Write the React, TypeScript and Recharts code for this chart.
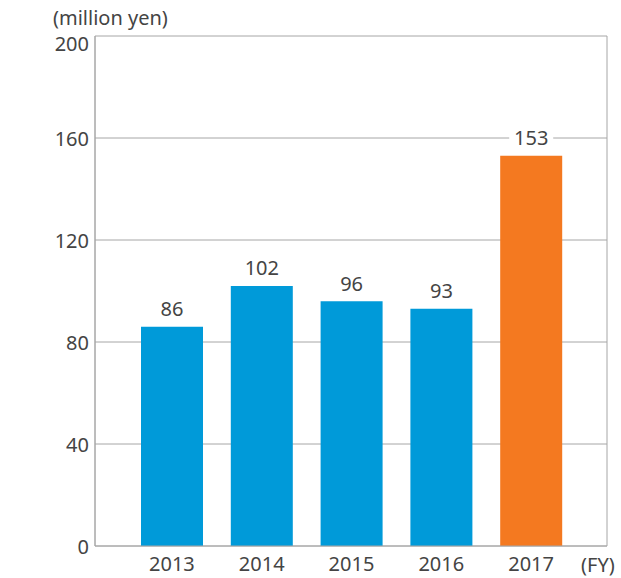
import { BarChart, Bar, XAxis, YAxis, CartesianGrid, LabelList, Cell } from 'recharts';

const years = ['2013', '2014', '2015', '2016', '2017'];
const amounts = [86, 102, 96, 93, 153];
const yTicks = [0, 40, 80, 120, 160, 200];

const data = years.map((year, i) => ({ year, amount: amounts[i] }));

const FONT = '"Noto Sans", sans-serif';
const TEXT = '#444';
const GRID = '#a6a6a6';

function ValueLabel(props: any) {
  const { x, y, width, value } = props;
  const cx = x + width / 2;
  const cy = y - 18;
  const w = String(value).length * 12 + 8;
  return (
    <g>
      <rect x={cx - w / 2} y={cy - 12} width={w} height={24} fill="#fff" />
      <text x={cx} y={cy} textAnchor="middle" dominantBaseline="central" fill={TEXT} fontSize={20} fontFamily={FONT}>
        {value}
      </text>
    </g>
  );
}

function YTick(props: any) {
  const { x, y, payload } = props;
  // top label sits a little below the frame line
  const shift = payload.value === 200 ? 7 : 0;
  return (
    <text x={x} y={y + shift} textAnchor="end" dominantBaseline="central" fill={TEXT} fontSize={20} fontFamily={FONT}>
      {payload.value}
    </text>
  );
}

export default function App() {
  return (
    <div style={{ position: 'absolute', left: 0, top: 0, width: 621, height: 578, background: '#fff', fontFamily: FONT }}>
      <BarChart width={621} height={578} data={data} margin={{ top: 36, right: 14, bottom: 0, left: 0 }}>
        <CartesianGrid
          stroke={GRID}
          verticalCoordinatesGenerator={({ offset }: any) => [offset.left, offset.left + offset.width]}
        />
        <XAxis
          dataKey="year"
          axisLine={{ stroke: GRID }}
          tickLine={false}
          tickMargin={5}
          padding={{ left: 32, right: 31 }}
          height={32}
          tick={{ fill: TEXT, fontSize: 20, fontFamily: FONT }}
        />
        <YAxis
          domain={[0, 200]}
          ticks={yTicks}
          width={95}
          axisLine={{ stroke: GRID }}
          tickLine={false}
          tickMargin={0}
          tick={<YTick />}
        />
        <Bar dataKey="amount" barSize={62} isAnimationActive={false}>
          {data.map((d, i) => (
            <Cell key={d.year} fill={i === data.length - 1 ? '#f47920' : '#009ad9'} />
          ))}
          <LabelList dataKey="amount" content={ValueLabel} />
        </Bar>
      </BarChart>
      <div style={{ position: 'absolute', left: 53, top: 4, fontSize: 20, color: TEXT, lineHeight: '27px' }}>(million yen)</div>
      <div style={{ position: 'absolute', left: 581, top: 551, fontSize: 20, color: TEXT, lineHeight: '27px' }}>(FY)</div>
    </div>
  );
}
